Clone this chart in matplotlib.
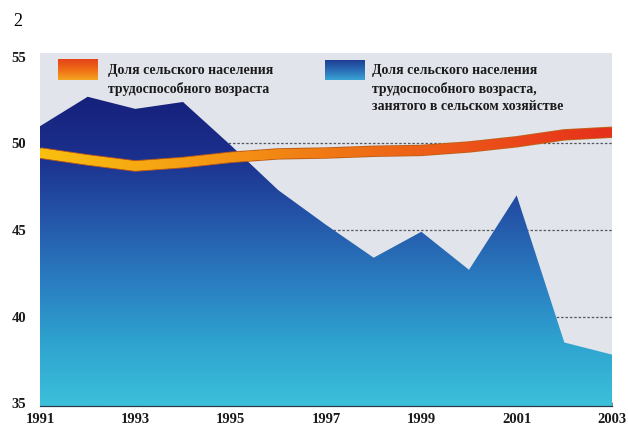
import numpy as np
import matplotlib.pyplot as plt
from matplotlib.collections import LineCollection
from matplotlib.colors import LinearSegmentedColormap
from matplotlib.patches import Polygon

# data
years = np.arange(1991, 2004)
employed_share = [51.0, 52.7, 52.0, 52.4, 49.9, 47.3, 45.3, 43.4, 44.9, 42.7, 47.0, 38.5, 37.8]
working_age_share = [49.45, 49.05, 48.7, 48.9, 49.2, 49.4, 49.45, 49.55, 49.6, 49.8, 50.1, 50.5, 50.65]
x_ticks = [1991, 1993, 1995, 1997, 1999, 2001, 2003]
y_ticks = [35, 40, 45, 50, 55]

label_working = 'Доля сельского населения\nтрудоспособного возраста'
label_employed = ('Доля сельского населения\nтрудоспособного возраста,\n'
                  'занятого в сельском хозяйстве')

serif = ['Liberation Serif', 'DejaVu Serif']

fig = plt.figure(figsize=(6.28, 4.32), dpi=100)
ax = fig.add_axes([40 / 628, 1 - 406 / 432, 572 / 628, 353 / 432])
ax.set_xlim(1991, 2003)
ax.set_ylim(34.83, 55.23)
ax.set_facecolor('#e1e4ea')

# dashed grid lines under the area
for yv in [40, 45, 50]:
    ax.axhline(yv, color='#55585e', lw=0.9, ls=(0, (2, 1.5)), zorder=1)

# blue area with vertical gradient
blue_cmap = LinearSegmentedColormap.from_list(
    'blues', ['#3cc0da', '#2ea3cf', '#2a7cc0', '#2455a8', '#1b2f8c', '#15207a'])
grad = np.linspace(0, 1, 256).reshape(-1, 1)
img = ax.imshow(grad, cmap=blue_cmap, origin='lower', aspect='auto',
                extent=[1991, 2003, 34.83, 53.0], zorder=2)
verts = [(1991, 34.83)] + list(zip(years, employed_share)) + [(2003, 34.83)]
clip = Polygon(verts, closed=True, transform=ax.transData, facecolor='none', edgecolor='none')
ax.add_patch(clip)
img.set_clip_path(clip)

# thick line with yellow -> orange -> red gradient, darker rim underneath
ax.plot(years, working_age_share, color='#c2601a', lw=8.2, solid_capstyle='butt', zorder=3)
xs = np.linspace(1991, 2003, 400)
ys = np.interp(xs, years, working_age_share)
pts = np.array([xs, ys]).T.reshape(-1, 1, 2)
segs = np.concatenate([pts[:-1], pts[1:]], axis=1)
line_cmap = LinearSegmentedColormap.from_list(
    'warm', ['#f8c010', '#f5a012', '#f07a14', '#ec5418', '#e5301a'])
lc = LineCollection(segs, cmap=line_cmap, linewidth=6.6, capstyle='round', zorder=4)
lc.set_array(np.linspace(0, 1, len(segs)))
ax.add_collection(lc)

# axes styling
for side in ['left', 'top', 'right']:
    ax.spines[side].set_visible(False)
ax.spines['bottom'].set_color('#2a3a50')
ax.spines['bottom'].set_linestyle((0, (1.5, 1)))
ax.spines['bottom'].set_linewidth(0.9)
ax.set_xticks(x_ticks)
ax.set_yticks(y_ticks)
ax.tick_params(axis='x', direction='in', length=3, color='#8a8e94', pad=5)
ax.tick_params(axis='y', length=0, pad=10)
for lab in ax.get_xticklabels() + ax.get_yticklabels():
    lab.set_fontfamily(serif)
    lab.set_fontweight('bold')
    lab.set_fontsize(10.5)
    lab.set_color('#1a1a1a')

# legend swatches with vertical gradients (top colour first)
def swatch(x0, y0, w, h, colors):
    sax = fig.add_axes([x0 / 628, 1 - (y0 + h) / 432, w / 628, h / 432])
    cm = LinearSegmentedColormap.from_list('s', colors)
    g = np.linspace(0, 1, 64).reshape(-1, 1)
    sax.imshow(g, cmap=cm, aspect='auto')
    sax.set_axis_off()

swatch(58, 59, 40, 21, ['#e4401a', '#ee6a14', '#f5a422'])
swatch(325, 60, 40, 20, ['#1d3f95', '#2a6cb6', '#3aa4d4'])

fig.text(108 / 628, 1 - 64 / 432, label_working, fontfamily=serif, fontweight='bold',
         fontsize=10, va='top', ha='left', linespacing=1.45, color='#1a1a1a')
fig.text(372 / 628, 1 - 64 / 432, label_employed, fontfamily=serif, fontweight='bold',
         fontsize=10, va='top', ha='left', linespacing=1.45, color='#1a1a1a')

fig.text(13 / 628, 1 - 22 / 432, '2', fontfamily=serif, fontsize=13, va='center', ha='left')

fig.savefig('out.png', dpi=100)
